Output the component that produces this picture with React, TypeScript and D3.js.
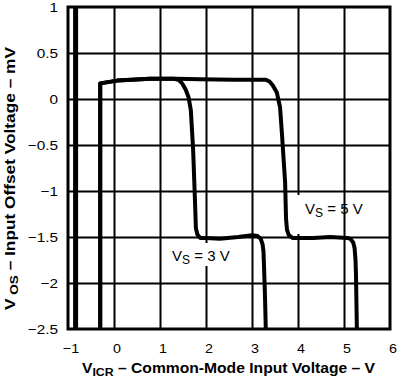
import React, { useEffect, useRef } from "react";
import * as d3 from "d3";

const xTicks = [-1, 0, 1, 2, 3, 4, 5, 6];
const yTicks = [1, 0.5, 0, -0.5, -1, -1.5, -2, -2.5];
const xTickLabels = ["\u22121", "0", "1", "2", "3", "4", "5", "6"];
const yTickLabels = ["1", "0.5", "0", "\u22120.5", "\u22121", "\u22121.5", "\u22122", "\u22122.5"];

const vs3X = [-0.30, -0.30, 0.07, 0.78, 1.30, 1.40, 1.48, 1.56, 1.62, 1.67, 1.72, 1.76, 1.78, 1.81, 1.87, 2.0, 2.3, 2.7, 3.0, 3.12, 3.19, 3.23, 3.25, 3.26, 3.28, 3.30];
const vs3Y = [-2.5, 0.17, 0.20, 0.22, 0.22, 0.21, 0.17, 0.10, 0.02, -0.12, -0.55, -1.10, -1.40, -1.47, -1.51, -1.51, -1.52, -1.50, -1.48, -1.49, -1.52, -1.58, -1.66, -1.80, -2.10, -2.5];

const vs5X = [-0.30, -0.30, 0.07, 0.78, 1.37, 1.87, 2.6, 3.30, 3.38, 3.45, 3.54, 3.61, 3.65, 3.72, 3.74, 3.76, 3.80, 3.88, 3.95, 4.33, 4.70, 5.07, 5.14, 5.20, 5.23, 5.25, 5.26, 5.28];
const vs5Y = [-2.5, 0.17, 0.20, 0.22, 0.22, 0.215, 0.21, 0.21, 0.19, 0.15, 0.07, -0.09, -0.37, -0.91, -1.30, -1.42, -1.48, -1.51, -1.51, -1.51, -1.50, -1.51, -1.52, -1.56, -1.62, -1.75, -1.90, -2.5];

const edgeX = [-0.835, -0.835];
const edgeY = [1, -2.5];

const FONT = "'Liberation Sans', Arial, Helvetica, sans-serif";

export default function App() {
  const ref = useRef<SVGSVGElement>(null);

  useEffect(() => {
    const svg = d3.select(ref.current);
    svg.selectAll("*").remove();

    const xs = d3.scaleLinear().domain([-1, 6]).range([68, 390]);
    const ys = d3.scaleLinear().domain([-2.5, 1]).range([329, 7]);
    const lineGen = d3
      .line<[number, number]>()
      .x((d) => xs(d[0]))
      .y((d) => ys(d[1]));
    const pts = (a: number[], b: number[]) => a.map((v, i) => [v, b[i]] as [number, number]);

    // grid via d3 axes (tick lines spanning the plot)
    const gx = svg
      .append("g")
      .attr("transform", `translate(0,${ys(-2.5)})`)
      .call(
        d3
          .axisBottom(xs)
          .tickValues(xTicks.slice(1, -1))
          .tickSize(-(ys(-2.5) - ys(1)))
          .tickFormat(() => "")
      );
    gx.select(".domain").remove();
    gx.selectAll(".tick line").attr("stroke", "#000").attr("stroke-width", 2);

    const gy = svg
      .append("g")
      .attr("transform", `translate(${xs(-1)},0)`)
      .call(
        d3
          .axisLeft(ys)
          .tickValues(yTicks.slice(1, -1))
          .tickSize(-(xs(6) - xs(-1)))
          .tickFormat(() => "")
      );
    gy.select(".domain").remove();
    gy.selectAll(".tick line").attr("stroke", "#000").attr("stroke-width", 2);

    // white label backgrounds
    svg.append("rect").attr("x", 296).attr("y", 195).attr("width", 44).attr("height", 39).attr("fill", "#fff");
    svg.append("rect").attr("x", 168).attr("y", 243).attr("width", 68).attr("height", 23).attr("fill", "#fff");

    svg.append("path").attr("d", lineGen(pts(edgeX, edgeY))).attr("fill", "none").attr("stroke", "#000").attr("stroke-width", 5);
    [
      [vs3X, vs3Y],
      [vs5X, vs5Y],
    ].forEach(([a, b]) => {
      svg
        .append("path")
        .attr("d", lineGen(pts(a, b)))
        .attr("fill", "none")
        .attr("stroke", "#000")
        .attr("stroke-width", 4)
        .attr("stroke-linejoin", "round");
    });

    svg
      .append("rect")
      .attr("x", xs(-1))
      .attr("y", ys(1))
      .attr("width", xs(6) - xs(-1))
      .attr("height", ys(-2.5) - ys(1))
      .attr("fill", "none")
      .attr("stroke", "#000")
      .attr("stroke-width", 3);

    const t = svg.append("g").attr("font-family", FONT).attr("fill", "#000");
    yTicks.forEach((v, i) => {
      t.append("text")
        .attr("transform", `translate(58,${ys(v)}) scale(1.18,1)`)
        .attr("text-anchor", "end")
        .attr("dominant-baseline", "central")
        .attr("font-size", 13)
        .text(yTickLabels[i]);
    });
    xTicks.forEach((v, i) => {
      t.append("text")
        .attr("transform", `translate(${xs(v) + 3},353) scale(1.1,1)`)
        .attr("text-anchor", "middle")
        .attr("font-size", 13)
        .text(xTickLabels[i]);
    });

    const label = (x: number, y: number, val: string) => {
      const tx = t.append("text").attr("x", x).attr("y", y).attr("font-size", 15);
      tx.append("tspan").text("V");
      tx.append("tspan").attr("font-size", 12).attr("dy", 3).text("S");
      tx.append("tspan").attr("dy", -3).text(` = ${val} V`);
    };
    label(305, 214, "5");
    label(172, 261, "3");

    const xt = t
      .append("text")
      .attr("x", 82)
      .attr("y", 373)
      .attr("font-size", 14)
      .attr("font-weight", "bold")
      .attr("textLength", 293)
      .attr("lengthAdjust", "spacingAndGlyphs");
    xt.append("tspan").text("V");
    xt.append("tspan").attr("font-size", 11).attr("dy", 3).text("ICR");
    xt.append("tspan").attr("dy", -3).text(" – Common-Mode Input Voltage – V");

    const yt = t
      .append("text")
      .attr("transform", "translate(15,310) rotate(-90)")
      .attr("font-size", 14)
      .attr("font-weight", "bold")
      .attr("textLength", 263)
      .attr("lengthAdjust", "spacingAndGlyphs");
    yt.append("tspan").text("V");
    yt.append("tspan").attr("font-size", 11).attr("dy", 3).attr("dx", 3).text("OS");
    yt.append("tspan").attr("dy", -3).text(" – Input Offset Voltage – mV");
  }, []);

  return <svg ref={ref} width={400} height={382} style={{ position: "absolute", left: 0, top: 0 }} />;
}
